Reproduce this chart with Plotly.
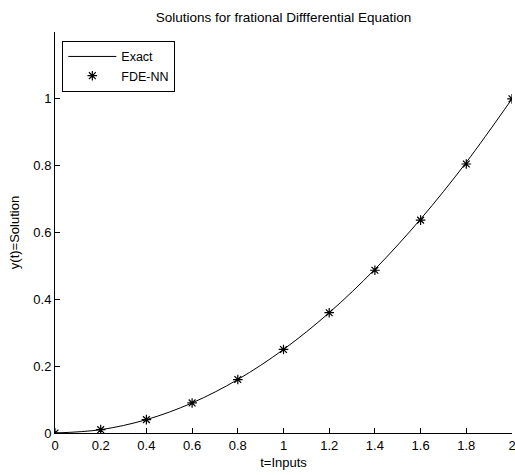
import plotly.graph_objects as go

t_values = [0, 0.2, 0.4, 0.6, 0.8, 1.0, 1.2, 1.4, 1.6, 1.8, 2.0]
exact_values = [0, 0.01, 0.04, 0.09, 0.16, 0.25, 0.36, 0.49, 0.64, 0.81, 1.0]
fdenn_values = [0, 0.01, 0.04, 0.09, 0.16, 0.25, 0.36, 0.487, 0.637, 0.805, 1.0]
x_ticks = [0, 0.2, 0.4, 0.6, 0.8, 1, 1.2, 1.4, 1.6, 1.8, 2]
x_tick_labels = ["0", "0.2", "0.4", "0.6", "0.8", "1", "1.2", "1.4", "1.6", "1.8", "2"]
y_ticks = [0, 0.2, 0.4, 0.6, 0.8, 1]
y_tick_labels = ["0", "0.2", "0.4", "0.6", "0.8", "1"]

font = "Liberation Sans, Arial, sans-serif"

fig = go.Figure()
fig.add_trace(go.Scatter(x=t_values, y=exact_values, mode="lines", name="Exact",
                         line=dict(color="black", width=1, shape="spline")))
fig.add_trace(go.Scatter(x=t_values, y=fdenn_values, mode="markers", name="FDE-NN",
                         marker=dict(symbol="asterisk-open", size=8, color="black",
                                     line=dict(color="black", width=1.2))))

fig.update_layout(
    width=515, height=475,
    margin=dict(l=55, r=3, t=32, b=42, autoexpand=False),
    paper_bgcolor="white", plot_bgcolor="white",
    font=dict(family=font, size=13, color="black"),
    title=dict(text="Solutions for frational Diffferential Equation", xref="paper", x=0.5,
               xanchor="center", y=0.964, yref="container", yanchor="middle",
               font=dict(size=13.5, family=font)),
    showlegend=True,
    legend=dict(x=0.016, y=0.978, xanchor="left", yanchor="top",
                bordercolor="black", borderwidth=1, bgcolor="white",
                font=dict(size=12.5, family=font), tracegroupgap=0, itemwidth=48),
    xaxis=dict(range=[0, 2], tickvals=x_ticks, ticktext=x_tick_labels,
               showline=True, linecolor="black", linewidth=1, mirror=False,
               ticks="inside", ticklen=5, tickcolor="black", showgrid=False, zeroline=False,
               ticklabeloverflow="allow",
               title=dict(text="t=Inputs", font=dict(size=13), standoff=6)),
    yaxis=dict(range=[0, 1.2], tickvals=y_ticks, ticktext=y_tick_labels,
               showline=True, linecolor="black", linewidth=1, mirror=False,
               ticks="inside", ticklen=5, tickcolor="black", showgrid=False, zeroline=False,
               title=dict(text="y(t)=Solution", font=dict(size=13), standoff=10)),
)

fig.write_html("out.html", config={"displayModeBar": False},
               post_script="document.body.style.margin='0';")
